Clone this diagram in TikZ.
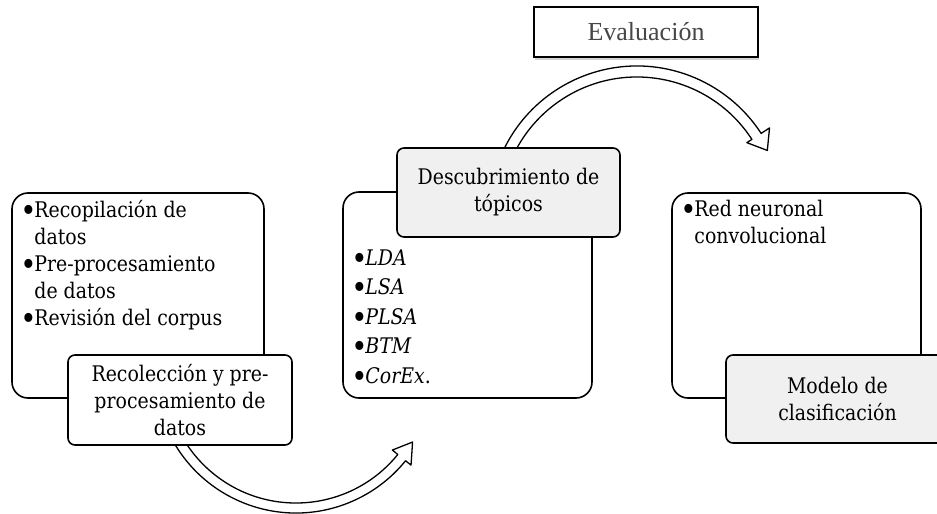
\documentclass[tikz,border=0pt]{standalone}
\usepackage{fontspec}
\setmainfont{DejaVu Serif}[FakeStretch=0.88]
\newfontfamily\evalfont{Liberation Serif}
\usepackage{tikz}
\usetikzlibrary{positioning, calc, shadows}

\newcommand{\itemdot}{\makebox[14pt][l]{\raisebox{-0.2em}{\scalebox{1.45}{\textbullet}}}}

\begin{document}
\begin{tikzpicture}[
    x=1pt, y=1pt,
    font=\fontsize{21.5}{27}\selectfont,
    % Node styles
    bigbox/.style={draw, rounded corners=16pt, fill=white, line width=1.6pt, minimum width=252pt, minimum height=205pt, inner sep=0pt},
    stepbox/.style={draw, rounded corners=7pt, line width=1.6pt, align=center, minimum width=224pt, minimum height=89pt, inner sep=0pt},
    listtext/.style={anchor=north west, inner sep=0pt, align=left},
    evalbox/.style={draw, line width=1.2pt, fill=white, minimum width=224pt, minimum height=50pt, inner sep=0pt, text=black!72, font=\fontsize{26}{30}\selectfont\evalfont, drop shadow={shadow xshift=1pt, shadow yshift=-3pt, opacity=0.35}},
    blockarrow/.style={draw, fill=white, line width=1.3pt, line join=round}
]
\clip (0,0) rectangle (937,-514);

% ========== Recoleccion ==========
\node[bigbox] (datos) at (138,-295.5) {};
\node[listtext] (datoslist) at ([xshift=9pt,yshift=-6pt]datos.north west) {%
  \begin{tabular}{@{}l@{}l@{}}
  \itemdot & Recopilación de\\
           & datos\\
  \itemdot & Pre-procesamiento\\
           & de datos\\
  \itemdot & Revisión del corpus
  \end{tabular}};

% arrow to the topics (starts under the box)
\coordinate (botarc) at (296,-372);
\draw[blockarrow, shift={(botarc)}] (200:141) arc[start angle=200, end angle=321, radius=141pt]
    -- (321:148) -- (329:136) -- (321:124) -- (321:131)
    arc[start angle=321, end angle=200, radius=131pt] -- cycle;

\node[stepbox, fill=white, minimum height=90pt] (recol) at (180,-400) {Recolección y pre-\\procesamiento de\\datos};

% ========== Topicos ==========
\node[bigbox, minimum width=249pt, minimum height=206pt] (topicos) at (467.5,-295) {};
\node[listtext, font=\fontsize{21.5}{29.5}\selectfont] (topicoslist) at ([xshift=9pt,yshift=-53pt]topicos.north west) {%
  \begin{tabular}{@{}l@{}l@{}}
  \itemdot & \textit{LDA}\\
  \itemdot & \textit{LSA}\\
  \itemdot & \textit{PLSA}\\
  \itemdot & \textit{BTM}\\
  \itemdot & \textit{CorEx}.
  \end{tabular}};

% arrow to the model (starts under the box)
\coordinate (toparc) at (637,-214);
\draw[blockarrow, shift={(toparc)}] (160:148) arc[start angle=160, end angle=33, radius=148pt]
    -- (33:158) -- (26:145) -- (33:131) -- (33:137)
    arc[start angle=33, end angle=160, radius=137pt] -- cycle;

\node[stepbox, fill=gray!12, minimum width=223pt] (descub) at (508.5,-192.5) {Descubrimiento de\\tópicos};

% ========== Evaluacion ==========
\node[evalbox] (eval) at (646,-32) {Evaluación};

% ========== Clasificacion ==========
\node[bigbox, minimum width=249pt] (clasif) at (796.5,-295.5) {};
\node[listtext] (clasiflist) at ([xshift=9pt,yshift=-5pt]clasif.north west) {%
  \begin{tabular}{@{}l@{}l@{}}
  \itemdot & Red neuronal\\
           & convolucional
  \end{tabular}};

\node[stepbox, fill=gray!12, minimum width=223pt, minimum height=88pt] (modelo) at (837.5,-399) {Modelo de\\clasificación};

\end{tikzpicture}
\end{document}
